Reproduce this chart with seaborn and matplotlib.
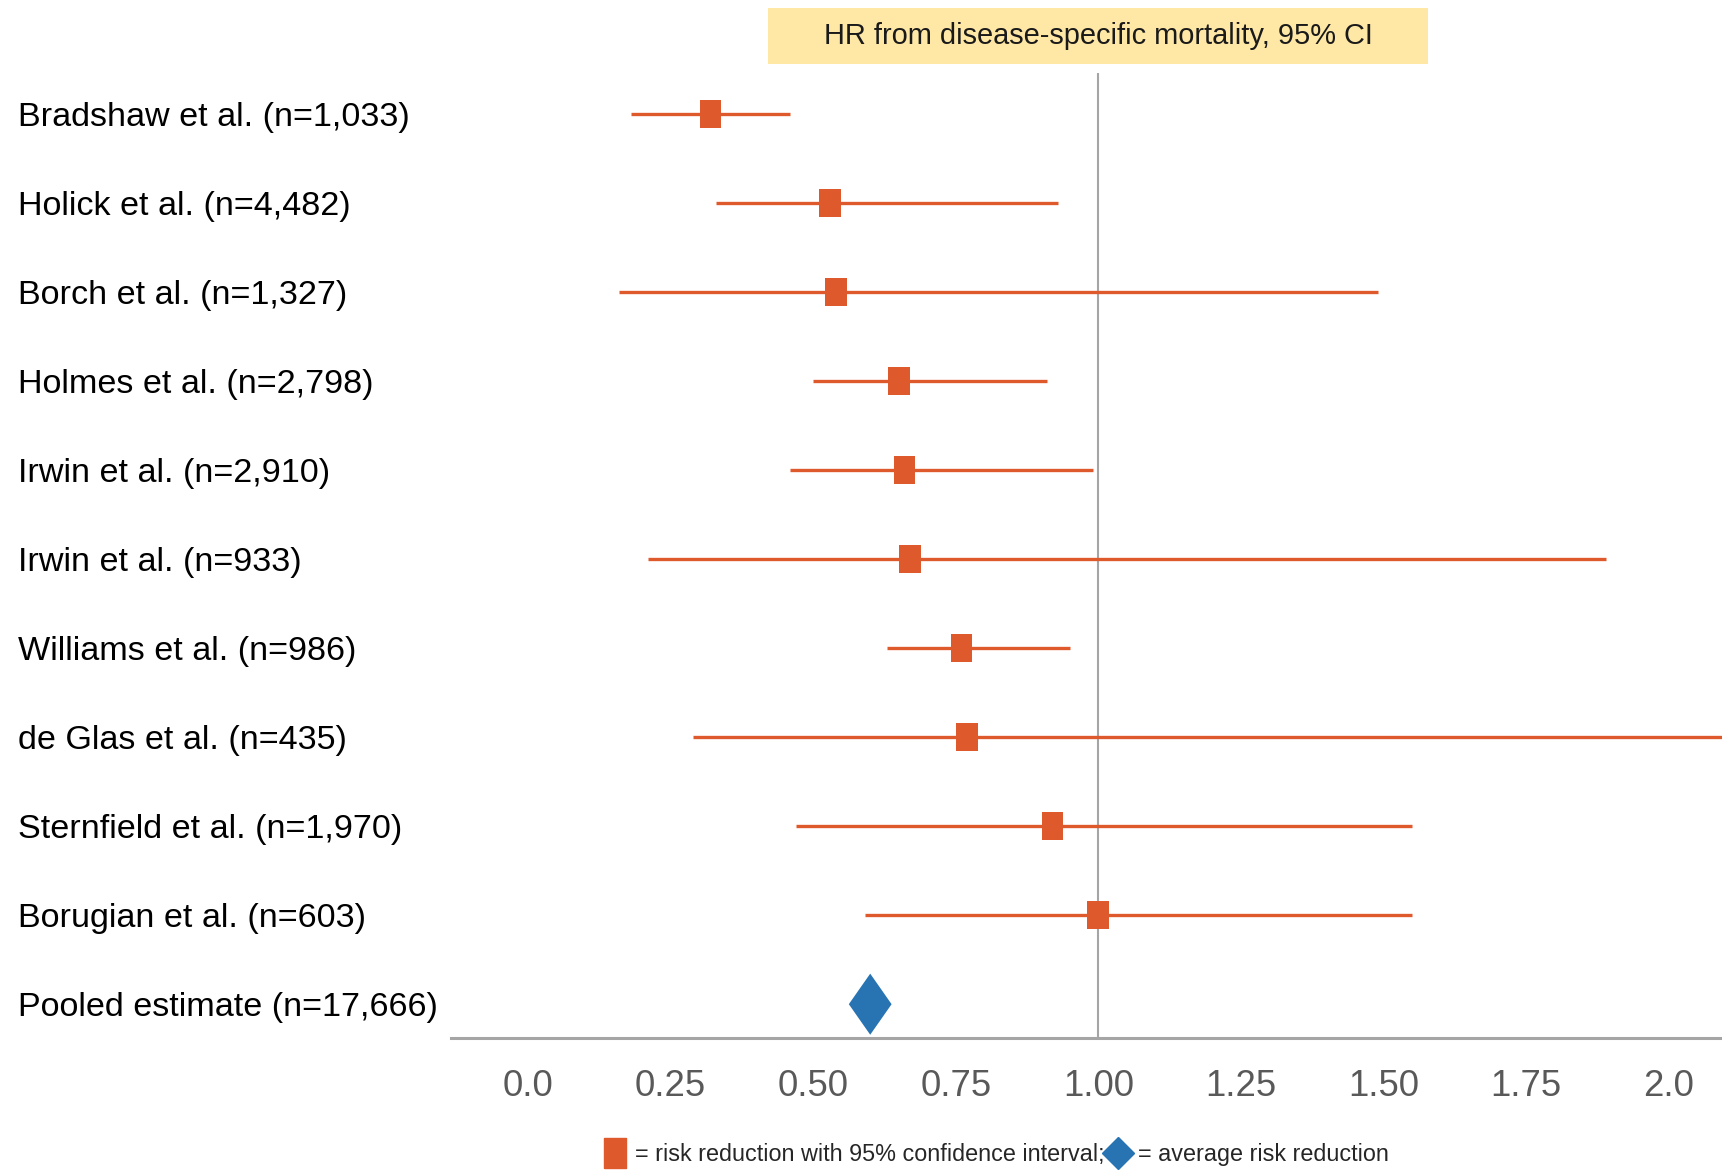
import numpy as np
import pandas as pd
import matplotlib
matplotlib.use("Agg")
import matplotlib.pyplot as plt
from matplotlib import font_manager
from matplotlib.patches import Rectangle
from matplotlib.lines import Line2D
import seaborn as sns

# study rows, top to bottom
studies = ["Bradshaw et al. (n=1,033)", "Holick et al. (n=4,482)", "Borch et al. (n=1,327)",
           "Holmes et al. (n=2,798)", "Irwin et al. (n=2,910)", "Irwin et al. (n=933)",
           "Williams et al. (n=986)", "de Glas et al. (n=435)", "Sternfield et al. (n=1,970)",
           "Borugian et al. (n=603)"]
hr = [0.32, 0.53, 0.54, 0.65, 0.66, 0.67, 0.76, 0.77, 0.92, 1.00]
ci_low = [0.18, 0.33, 0.16, 0.50, 0.46, 0.21, 0.63, 0.29, 0.47, 0.59]
ci_high = [0.46, 0.93, 1.49, 0.91, 0.99, 1.89, 0.95, 2.40, 1.55, 1.55]

pooled_label = "Pooled estimate (n=17,666)"
pooled_hr = 0.60

tick_values = [0.0, 0.25, 0.50, 0.75, 1.00, 1.25, 1.50, 1.75, 2.0]
tick_labels = ["0.0", "0.25", "0.50", "0.75", "1.00", "1.25", "1.50", "1.75", "2.0"]

title = "HR from disease-specific mortality, 95% CI"
legend_labels = ["= risk reduction with 95% confidence interval;", "= average risk reduction"]

orange = "#DE5A2C"
blue = "#2874B2"
grey = "#A5A5A5"

sns.set_style("white")
names = {f.name for f in font_manager.fontManager.ttflist}
if "Liberation Sans Narrow" in names:
    family, k = "Liberation Sans Narrow", 1.0
else:
    family, k = "Liberation Sans", 0.82
plt.rcParams["font.family"] = [family, "DejaVu Sans"]

df = pd.DataFrame({"study": studies, "hr": hr, "lo": ci_low, "hi": ci_high})
df["row"] = np.arange(len(df))
pooled = pd.DataFrame({"study": [pooled_label], "hr": [pooled_hr], "row": [len(df)]})

rect = [(-0.39, -0.5), (0.39, -0.5), (0.39, 0.5), (-0.39, 0.5), (-0.39, -0.5)]
diamond = [(0, -0.5), (0.35, 0), (0, 0.5), (-0.35, 0), (0, -0.5)]

fig = plt.figure(figsize=(17.22, 11.70), dpi=100)
ax = fig.add_axes([0.262, 0.1128, 0.738, 0.8248])

ax.axvline(1.0, color=grey, lw=1.5, zorder=1)
ax.hlines(df["row"], df["lo"], df["hi"], color=orange, lw=2.4, zorder=2)
sns.scatterplot(data=df, x="hr", y="row", marker=rect, s=20 ** 2, color=orange,
                edgecolor="none", linewidth=0, zorder=3, ax=ax, legend=False)
sns.scatterplot(data=pooled, x="hr", y="row", marker=diamond, s=44 ** 2, color=blue,
                edgecolor="none", linewidth=0, zorder=3, ax=ax, legend=False)

ax.set_xlim(-0.135, 2.094)
ax.set_ylim(len(df) + 0.38, -0.46)
ax.set_xticks(tick_values)
ax.set_xticklabels(tick_labels, fontsize=32 * k, color="#595959")
ax.set_yticks(list(df["row"]) + [len(df)])
ax.set_yticklabels(studies + [pooled_label], fontsize=30 * k, color="black")
for lbl in ax.get_yticklabels():
    lbl.set_horizontalalignment("left")
ax.tick_params(axis="y", length=0, pad=312)
ax.tick_params(axis="x", length=0, pad=22)
ax.set_xlabel("")
ax.set_ylabel("")
for side in ["top", "right", "left"]:
    ax.spines[side].set_visible(False)
ax.spines["bottom"].set_color(grey)
ax.spines["bottom"].set_linewidth(2.2)

# title box
fig.patches.append(Rectangle((768 / 1722, 1 - 64 / 1170), 660 / 1722, 56 / 1170,
                             transform=fig.transFigure, facecolor="#FFE8A6",
                             edgecolor="none", zorder=0))
fig.text(1098 / 1722, 1 - 36 / 1170, title, ha="center", va="center",
         fontsize=25.5 * k, color="#1a1a1a")

handles = [Line2D([], [], marker=rect, ls="none", color=orange, markersize=21),
           Line2D([], [], marker="D", ls="none", color=blue, markersize=16)]
fig.legend(handles, legend_labels, loc="center", bbox_to_anchor=(0.579, 0.013), ncol=2,
           frameon=False, fontsize=20.5 * k, handletextpad=0.45, columnspacing=0.2,
           handlelength=0.8, borderpad=0)

fig.savefig("out.png", dpi=100, facecolor="white")
